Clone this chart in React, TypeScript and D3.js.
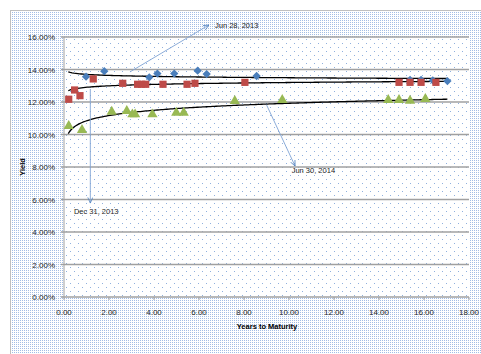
import React from "react";
import * as d3 from "d3";

const blueX = [0.98, 1.79, 3.79, 4.15, 4.9, 5.94, 6.34, 8.56, 15.38, 15.87, 16.39, 17.04];
const blueY = [13.56, 13.9, 13.52, 13.75, 13.75, 13.93, 13.72, 13.6, 13.36, 13.36, 13.33, 13.29];

const redX = [0.21, 0.47, 0.71, 1.3, 2.61, 3.27, 3.45, 3.63, 4.4, 5.47, 5.82, 8.04, 14.89, 15.38, 15.87, 16.53];
const redY = [12.17, 12.74, 12.39, 13.42, 13.15, 13.09, 13.09, 13.09, 13.09, 13.09, 13.15, 13.21, 13.21, 13.21, 13.21, 13.21];

const greenX = [0.21, 0.8, 2.12, 2.79, 3.04, 3.16, 3.93, 4.99, 5.32, 7.59, 9.7, 14.41, 14.89, 15.38, 16.06];
const greenY = [10.52, 10.28, 11.4, 11.45, 11.24, 11.24, 11.24, 11.34, 11.34, 12.06, 12.12, 12.12, 12.12, 12.08, 12.18];

// logarithmic trendlines: y = a + b ln(x)
const trendA = [13.7, 12.906, 10.84];
const trendB = [-0.09, 0.128, 0.47];
const trendDomain = [0.19, 17.04];

const xTicks = [0, 2, 4, 6, 8, 10, 12, 14, 16, 18];
const yTicks = [0, 2, 4, 6, 8, 10, 12, 14, 16];

const annotations = [
  { label: "Jun 28, 2013", x1: 2.93, y1: 13.85, x2: 6.44, y2: 16.74, tx: 6.71, ty: 16.55 },
  { label: "Dec 31, 2013", x1: 1.17, y1: 12.8, x2: 1.17, y2: 5.78, tx: 0.44, ty: 5.1 },
  { label: "Jun 30, 2014", x1: 9.0, y1: 11.83, x2: 10.27, y2: 8.06, tx: 10.12, ty: 7.63 },
];

const W = 481;
const H = 354;
const PL = 64, PR = 469, PT = 37, PB = 297;
const FONT = "'Liberation Sans', Arial, sans-serif";

export default function App() {
  const x = d3.scaleLinear().domain([0, 18]).range([PL, PR]);
  const y = d3.scaleLinear().domain([0, 16]).range([PB, PT]);

  const trendPts = d3.range(0, 201).map((i) => trendDomain[0] + (i / 200) * (trendDomain[1] - trendDomain[0]));
  const line = d3.line<[number, number]>().x((d) => x(d[0])).y((d) => y(d[1])).curve(d3.curveLinear);

  const diamond = d3.symbol().type(d3.symbolDiamond2).size(44)() as string;
  const square = d3.symbol().type(d3.symbolSquare).size(52)() as string;
  const triangle = d3.symbol().type(d3.symbolTriangle).size(46)() as string;

  return (
    <svg width={W} height={H} style={{ position: "absolute", left: 0, top: 0 }} fontFamily={FONT}>
      <defs>
        <pattern id="outer" width="2" height="2" patternUnits="userSpaceOnUse">
          <rect width="2" height="2" fill="#ffffff" />
          <rect width="1" height="1" fill="#a3bde5" />
        </pattern>
        <pattern id="plotp" width="8" height="8" patternUnits="userSpaceOnUse" x={PL} y={PT}>
          <rect width="8" height="8" fill="#ffffff" />
          <rect x="2" y="2" width="1" height="1" fill="#8fb0de" />
          <rect x="6" y="6" width="1" height="1" fill="#8fb0de" />
        </pattern>
        <marker id="arr" viewBox="0 0 10 10" refX="9" refY="5" markerWidth="7" markerHeight="7" orient="auto-start-reverse">
          <path d="M0,1 L9,5 L0,9" fill="none" stroke="#4f81bd" strokeWidth="1.2" />
        </marker>
      </defs>
      <rect x={0} y={0} width={W} height={H} fill="#ffffff" />
      <rect x={10.5} y={10.5} width={W + 20} height={H + 20} fill="url(#outer)" stroke="#bfbfbf" strokeWidth={1} />
      <rect x={PL} y={PT} width={PR - PL} height={PB - PT} fill="url(#plotp)" />

      {yTicks.map((t) => (
        <g key={"y" + t}>
          <line x1={PL - 3} x2={PR} y1={y(t)} y2={y(t)} stroke="#a0a0a0" strokeWidth={1.5} />
          <text x={PL - 9} y={y(t) + 3} fontSize={8} textAnchor="end" fill="#262626">
            {t.toFixed(2) + "%"}
          </text>
        </g>
      ))}
      <line x1={PL} x2={PL} y1={PT} y2={PB} stroke="#a0a0a0" strokeWidth={1} />
      {xTicks.map((t) => (
        <g key={"x" + t}>
          <line x1={x(t)} x2={x(t)} y1={PB} y2={PB + 3} stroke="#a0a0a0" strokeWidth={1} />
          <text x={x(t)} y={PB + 18} fontSize={8} textAnchor="middle" fill="#262626">
            {t.toFixed(2)}
          </text>
        </g>
      ))}

      {trendA.map((a, i) => (
        <path
          key={"t" + i}
          d={line(trendPts.map((v) => [v, a + trendB[i] * Math.log(v)] as [number, number])) as string}
          fill="none"
          stroke="#000000"
          strokeWidth={1.3}
        />
      ))}

      {blueX.map((v, i) => (
        <path key={"b" + i} d={diamond} transform={`translate(${x(v)},${y(blueY[i])})`} fill="#4a7ebb" />
      ))}
      {redX.map((v, i) => (
        <path key={"r" + i} d={square} transform={`translate(${x(v)},${y(redY[i])})`} fill="#be4b48" />
      ))}
      {greenX.map((v, i) => (
        <path key={"g" + i} d={triangle} transform={`translate(${x(v)},${y(greenY[i])})`} fill="#98b954" />
      ))}

      {annotations.map((a) => (
        <g key={a.label}>
          <line
            x1={x(a.x1)}
            y1={y(a.y1)}
            x2={x(a.x2)}
            y2={y(a.y2)}
            stroke="#7fa3d4"
            strokeWidth={0.9}
            markerEnd="url(#arr)"
          />
          <text x={x(a.tx)} y={y(a.ty)} fontSize={7.5} fill="#262626">
            {a.label}
          </text>
        </g>
      ))}

      <text x={267} y={329} fontSize={7.5} fontWeight="bold" textAnchor="middle" fill="#000">
        Years to Maturity
      </text>
      <text transform="translate(25,167) rotate(-90)" fontSize={7.5} fontWeight="bold" textAnchor="middle" fill="#000">
        Yield
      </text>
    </svg>
  );
}
